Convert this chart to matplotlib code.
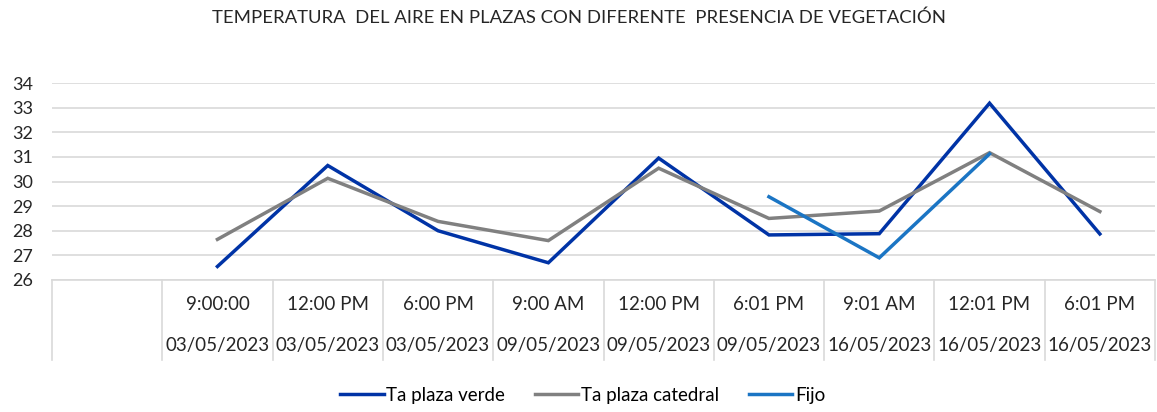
import numpy as np
import matplotlib
matplotlib.use('Agg')
import matplotlib.pyplot as plt
from matplotlib.lines import Line2D

# Datos
horas = ['', '9:00:00', '12:00 PM', '6:00 PM', '9:00 AM', '12:00 PM', '6:01 PM', '9:01 AM', '12:01 PM', '6:01 PM']
fechas = ['', '03/05/2023', '03/05/2023', '03/05/2023', '09/05/2023', '09/05/2023', '09/05/2023',
          '16/05/2023', '16/05/2023', '16/05/2023']
ta_verde = [np.nan, 26.55, 30.65, 28.0, 26.7, 30.95, 27.83, 27.88, 33.18, 27.87]
ta_catedral = [np.nan, 27.65, 30.13, 28.38, 27.6, 30.54, 28.5, 28.8, 31.17, 28.78]
fijo = [np.nan, np.nan, np.nan, np.nan, np.nan, np.nan, 29.38, 26.9, 31.12, np.nan]

titulo = 'TEMPERATURA  DEL AIRE EN PLAZAS CON DIFERENTE  PRESENCIA DE VEGETACIÓN'

c_verde = '#0033A6'
c_catedral = '#808080'
c_fijo = '#1B75C4'
c_grid = '#D9D9D9'
c_texto = '#262626'

plt.rcParams['font.family'] = ['Lato', 'DejaVu Sans']

W, H = 1157, 412
fig = plt.figure(figsize=(W / 100, H / 100), dpi=100)
left, right = 52 / W, 1155 / W
top, bottom = 1 - 83 / H, 1 - 280 / H
ax = fig.add_axes([left, bottom, right - left, top - bottom])

x = np.arange(len(horas)) + 0.5
ax.plot(x, ta_verde, color=c_verde, lw=2.5, solid_joinstyle='miter', label='Ta plaza verde')
ax.plot(x, ta_catedral, color=c_catedral, lw=2.5, solid_joinstyle='miter', label='Ta plaza catedral')
ax.plot(x, fijo, color=c_fijo, lw=2.5, solid_joinstyle='miter', label='Fijo')

ax.set_xlim(0, len(horas))
ax.set_ylim(26, 34)
ax.set_yticks(range(26, 35))
ax.set_xticks([])
ax.tick_params(axis='y', length=0, labelsize=13, pad=13.5, colors=c_texto)
ax.yaxis.grid(True, color=c_grid, lw=1.2)
ax.set_axisbelow(True)
for s in ax.spines.values():
    s.set_visible(False)

# Tabla de categorías bajo el eje
tr = ax.get_xaxis_transform()
fondo = -(360 - 280) / (280 - 83)
ax.plot([0, len(horas)], [0, 0], transform=tr, color=c_grid, lw=1.2, clip_on=False)
for i in range(len(horas) + 1):
    ax.plot([i, i], [0, fondo], transform=tr, color=c_grid, lw=1.2, clip_on=False)
y_hora = -(305 - 280) / (280 - 83)
y_fecha = -(346 - 280) / (280 - 83)
for xi, h, f in zip(x, horas, fechas):
    ax.text(xi, y_hora, h, transform=tr, ha='center', va='center', fontsize=13.5, color=c_texto)
    ax.text(xi, y_fecha, f, transform=tr, ha='center', va='center', fontsize=13.5, color=c_texto)

fig.text(579 / W, 1 - 18 / H, titulo, ha='center', va='center', fontsize=13.3, color=c_texto)

handles = [Line2D([], [], color=c, lw=2.5) for c in (c_verde, c_catedral, c_fijo)]
fig.legend(handles, ['Ta plaza verde', 'Ta plaza catedral', 'Fijo'], loc='center',
           bbox_to_anchor=(583 / W, 1 - 395 / H), ncol=3, frameon=False, fontsize=13.5,
           handlelength=2.3, handletextpad=0.15, columnspacing=1.6)

fig.savefig('out.png', dpi=100)
